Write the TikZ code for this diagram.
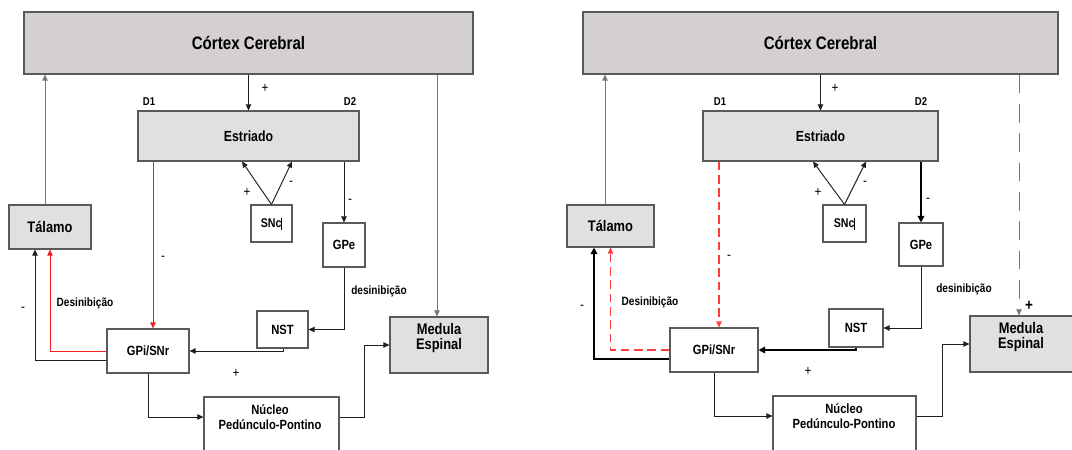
\documentclass[tikz,border=0pt]{standalone}
\usepackage{fontspec}
\setmainfont[FakeStretch=0.84]{Liberation Sans}
\usetikzlibrary{arrows.meta,fit,calc}
\definecolor{cortexgray}{RGB}{212,208,208}
\definecolor{boxgray}{RGB}{224,224,224}
\definecolor{edgegray}{RGB}{90,90,90}
\definecolor{linegray}{RGB}{120,120,120}
\definecolor{linedark}{RGB}{30,30,30}
\definecolor{redline}{RGB}{240,30,30}
\definecolor{redlight}{RGB}{255,60,60}
\begin{document}
\begin{tikzpicture}[x=0.75pt,y=-0.75pt,
  box/.style={draw=edgegray,line width=0.8pt,inner sep=0pt,fill=white},
  gbox/.style={box,fill=boxgray},
  cbox/.style={box,fill=cortexgray},
  tx/.style={font=\bfseries\fontsize{#1}{#1}\selectfont,inner sep=0pt,align=center},
  sg/.style={font=\fontsize{10.5}{10.5}\selectfont,inner sep=0pt},
  tip/.style={-{Triangle[length=4.5pt,width=4pt]}},
  arr/.style={tip,draw=linedark,line width=0.7pt},
  garr/.style={tip,draw=linegray,line width=0.7pt},
  rarr/.style={-{Triangle[length=4.5pt,width=4pt]},draw=redline,line width=0.75pt},
  rdash/.style={rarr,draw=redlight,line width=0.85pt,dash pattern=on 6.5pt off 3.5pt},
  thick arr/.style={-{Triangle[length=5pt,width=5pt]},draw=black,line width=2pt},
  gdash/.style={garr,dash pattern=on 14pt off 8pt}
]
\useasboundingbox (0,0) rectangle (1072,450);
\clip (0,0) rectangle (1072,450);
\fill[white] (0,0) rectangle (1072,450);

% ---------------- LEFT PANEL ----------------
\node[cbox,fit={(24,12) (473,74)}] (cor1) {};
\node[tx=13.5] (cor1t) at (cor1.center) {Córtex Cerebral};
\node[gbox,fit={(138,111) (359,161)}] (est1) {};
\node[tx=11] (est1t) at (est1.center) {Estriado};
\node[gbox,fit={(9,205) (91,249)}] (tal1) {};
\node[tx=11.5] (tal1t) at (tal1.center) {Tálamo};
\node[box,fit={(251,205) (292,242)}] (snc1) {};
\node[tx=9.5] (snc1t) at (snc1.center) {SNc\rule[-1.5pt]{0.6pt}{9pt}};
\node[box,fit={(323,223) (365,267)}] (gpe1) {};
\node[tx=10] (gpe1t) at (gpe1.center) {GPe};
\node[box,fit={(257,311) (308,348)}] (nst1) {};
\node[tx=10] (nst1t) at (nst1.center) {NST};
\node[box,fit={(107,329) (189,373)}] (gpi1) {};
\node[tx=10] (gpi1t) at (gpi1.center) {GPi/SNr};
\node[box,fit={(204,397) (339,470)}] (nuc1) {};
\node[tx=10] (nuc1t) at (270,417) {Núcleo\\[1pt]Pedúnculo-Pontino};
\node[gbox,fit={(390,317) (488,373)}] (med1) {};
\node[tx=11.5] (med1t) at (439,338) {Medula\\[0pt]Espinal};

\node[tx=8.5] (d11) at (149,102) {D1};
\node[tx=8.5] (d21) at (350,102) {D2};

\draw[garr] (45,0 |- tal1.north) -- (45,0 |- cor1.south);
\draw[arr] (est1.north |- cor1.south) -- (est1.north);
\node[sg] (p11) at (265,88) {+};
\draw[rarr] (153,0 |- est1.south) -- (153,0 |- gpi1.north);
\node[sg] (m11) at (163,258) {-};
\draw[arr] (snc1.north) -- (242,0 |- est1.south);
\draw[arr] (snc1.north) -- (292,0 |- est1.south);
\node[sg] (p12) at (247,192) {+};
\node[sg] (m12) at (291,183) {-};
\draw[arr] (344,0 |- est1.south) -- (344,0 |- gpe1.north);
\node[sg] (m13) at (350,201) {-};
\draw[arr] (344,0 |- gpe1.south) |- (nst1.east);
\node[tx=9] (des1) at (379,291) {desinibição};
\draw[arr] (283,0 |- nst1.south) |- (gpi1.east);
\draw[arr] (gpi1.west |- 0,360) -| (35,0 |- tal1.south);
\draw[rarr] (gpi1.west) -| (tal1.south);
\node[sg] (m14) at (23,309) {-};
\node[tx=9] (Des1) at (85,303) {Desinibição};
\node[sg] (p13) at (236,373) {+};
\draw[arr] (gpi1.south) |- (nuc1.west |- 0,417);
\draw[garr] (437,0 |- cor1.south) -- (437,0 |- med1.north);
\draw[arr] (nuc1.east |- 0,417) -- (364,417) |- (med1.west);

% ---------------- RIGHT PANEL ----------------
\node[cbox,fit={(583,12) (1058,74)}] (cor2) {};
\node[tx=13.5] (cor2t) at (cor2.center) {Córtex Cerebral};
\node[gbox,fit={(703,111) (938,161)}] (est2) {};
\node[tx=11] (est2t) at (est2.center) {Estriado};
\node[gbox,fit={(567,205) (654,247)}] (tal2) {};
\node[tx=11.5] (tal2t) at (tal2.center) {Tálamo};
\node[box,fit={(823,205) (866,242)}] (snc2) {};
\node[tx=9.5] (snc2t) at (snc2.center) {SNc\rule[-1.5pt]{0.6pt}{9pt}};
\node[box,fit={(899,223) (943,266)}] (gpe2) {};
\node[tx=10] (gpe2t) at (gpe2.center) {GPe};
\node[box,fit={(829,309) (883,347)}] (nst2) {};
\node[tx=10] (nst2t) at (nst2.center) {NST};
\node[box,fit={(670,328) (758,372)}] (gpi2) {};
\node[tx=10] (gpi2t) at (gpi2.center) {GPi/SNr};
\node[box,fit={(773,396) (916,470)}] (nuc2) {};
\node[tx=10] (nuc2t) at (844,416) {Núcleo\\[1pt]Pedúnculo-Pontino};
\node[gbox,fit={(970,316) (1080,372)}] (med2) {};
\node[tx=11.5] (med2t) at (1021,337) {Medula\\[0pt]Espinal};

\node[tx=8.5] (d12) at (720,102) {D1};
\node[tx=8.5] (d22) at (921,102) {D2};

\draw[garr] (605,0 |- tal2.north) -- (605,0 |- cor2.south);
\draw[arr] (est2.north |- cor2.south) -- (est2.north);
\node[sg] (p21) at (835,88) {+};
\draw[rdash] (719,0 |- est2.south) -- (719,0 |- gpi2.north);
\node[sg] (m21) at (729,257) {-};
\draw[arr] (snc2.north) -- (813,0 |- est2.south);
\draw[arr] (snc2.north) -- (866,0 |- est2.south);
\node[sg] (p22) at (818,192) {+};
\node[sg] (m22) at (865,183) {-};
\draw[thick arr] (921,0 |- est2.south) -- (921,0 |- gpe2.north);
\node[sg] (m23) at (928,200) {-};
\draw[arr] (921,0 |- gpe2.south) |- (nst2.east);
\node[tx=9] (des2) at (964,289) {desinibição};
\draw[thick arr] (856,0 |- nst2.south) |- (gpi2.east);
\draw[line width=2pt,draw=black,-{Triangle[length=5pt,width=5pt]}] (gpi2.west |- 0,359) -| (594,0 |- tal2.south);
\draw[rdash] (gpi2.west) -| (tal2.south);
\node[sg] (m24) at (582,307) {-};
\node[tx=9] (Des2) at (650,302) {Desinibição};
\node[sg] (p23) at (808,371) {+};
\draw[arr] (714,0 |- gpi2.south) |- (nuc2.west |- 0,416);
\draw[gdash] (1019,0 |- cor2.south) -- (1019,0 |- med2.north);
\node[font=\bfseries\fontsize{12}{12}\selectfont,inner sep=0pt] (p24) at (1029,306) {+};
\draw[arr] (nuc2.east |- 0,416) -- (942,416) |- (med2.west);
\end{tikzpicture}
\end{document}
